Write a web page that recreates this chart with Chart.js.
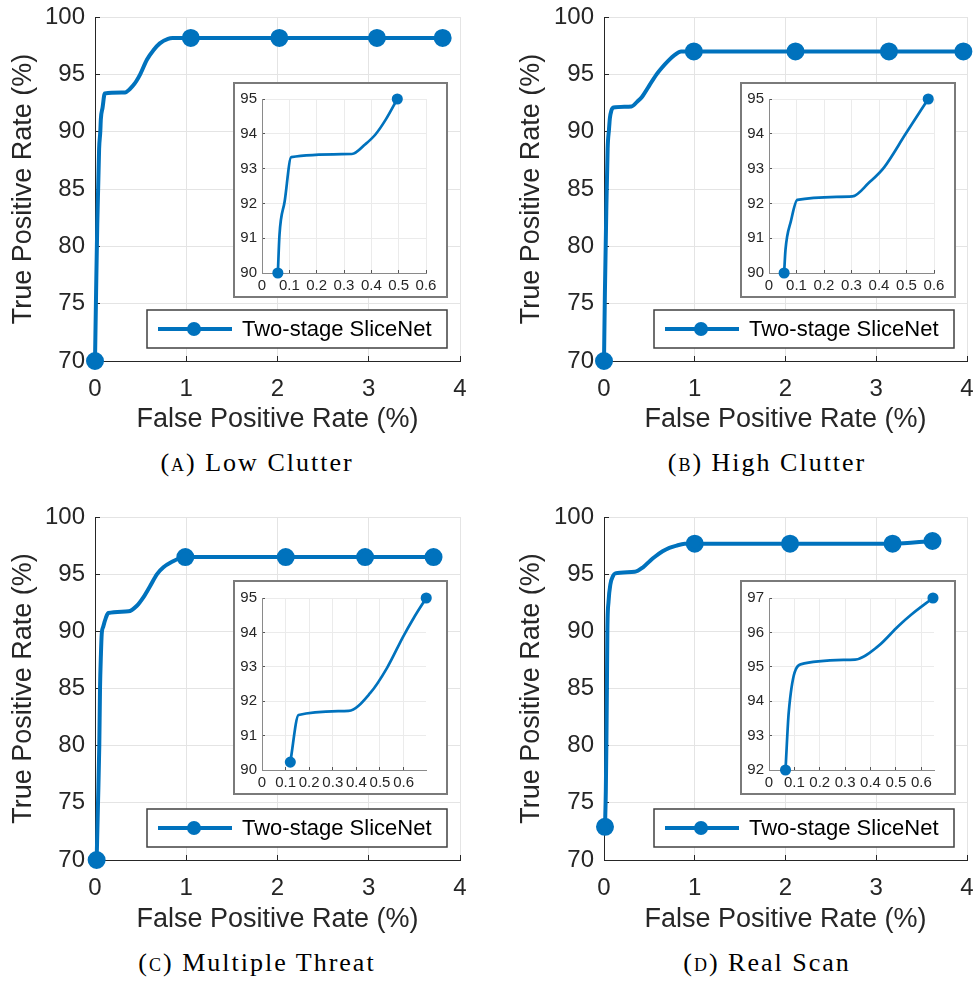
<!DOCTYPE html>
<html>
<head>
<meta charset="utf-8">
<title>Two-stage SliceNet ROC curves</title>
<script src="https://cdn.jsdelivr.net/npm/chart.js@4.4.1/dist/chart.umd.min.js"></script>
<style>
  html, body { margin: 0; padding: 0; background: #fff; }
  #page { position: relative; width: 978px; height: 982px; overflow: hidden; }
  #page canvas { position: absolute; display: block; }
  .inset { position: absolute; box-sizing: border-box; border: 2px solid #7a7a7a; background: #fff; }
  .inset canvas { left: 0; top: 0; }
  .caption { position: absolute; width: 340px; text-align: center; font-family: "Liberation Serif", "Times New Roman", serif;
             font-size: 26px; line-height: 30px; color: #000; letter-spacing: 2px; white-space: nowrap; }
  .sc { font-variant: small-caps; }
</style>
</head>
<body>
<div id="page"></div>
<script>
// values
const seriesName = 'Two-stage SliceNet';

const mainXTicks = [0, 1, 2, 3, 4];
const mainYTicks = [70, 75, 80, 85, 90, 95, 100];
const zoomXTicks = [0, 0.1, 0.2, 0.3, 0.4, 0.5, 0.6];
const zoomYTicks = [90, 91, 92, 93, 94, 95];
const zoomYTicksReal = [92, 93, 94, 95, 96, 97];

// (a) low clutter
const lowFpr = [0, 0.012, 0.025, 0.045, 0.058, 0.064, 0.083, 0.107, 0.33, 0.38, 0.415, 0.452, 0.495, 0.57, 0.64, 0.71, 0.8, 0.85, 1.05, 2.02, 3.09, 3.81];
const lowTpr = [70, 76, 82, 88.5, 90, 91.1, 92.1, 93.33, 93.42, 93.7, 94.0, 94.4, 95.0, 96.3, 97.1, 97.7, 98.1, 98.17, 98.17, 98.17, 98.17, 98.17];
const lowMarks = [0, 18, 19, 20, 21];
const lowZoomFpr = [0.058, 0.064, 0.083, 0.107, 0.329, 0.378, 0.415, 0.452, 0.495];
const lowZoomTpr = [90, 91.1, 92.06, 93.33, 93.42, 93.7, 93.98, 94.4, 95];

// (b) high clutter
const highFpr = [0, 0.01, 0.025, 0.04, 0.055, 0.065, 0.08, 0.103, 0.303, 0.364, 0.418, 0.497, 0.579, 0.64, 0.71, 0.78, 0.85, 0.99, 2.11, 3.14, 3.96];
const highTpr = [70, 76, 83, 88.5, 90.2, 91.2, 91.8, 92.1, 92.2, 92.6, 93.03, 94.0, 95.0, 95.6, 96.2, 96.7, 97.0, 97.0, 97.0, 97.0, 97.0];
const highMarks = [0, 17, 18, 19, 20];
const highZoomFpr = [0.055, 0.06, 0.08, 0.103, 0.303, 0.364, 0.418, 0.497, 0.579];
const highZoomTpr = [90, 90.67, 91.5, 92.1, 92.2, 92.6, 93.03, 94.0, 95];

// (c) multiple threat
const multiFpr = [0.018, 0.033, 0.047, 0.055, 0.065, 0.073, 0.09, 0.12, 0.146, 0.367, 0.459, 0.53, 0.6, 0.68, 0.75, 0.85, 0.93, 0.99, 2.09, 2.96, 3.71];
const multiTpr = [70, 75, 80, 85, 88, 89.7, 90.4, 91.2, 91.6, 91.75, 92.24, 92.97, 93.9, 95.0, 95.6, 96.1, 96.4, 96.5, 96.5, 96.5, 96.5];
const multiMarks = [0, 17, 18, 19, 20];
const multiZoomFpr = [0.12, 0.155, 0.367, 0.459, 0.53, 0.6, 0.643, 0.696];
const multiZoomTpr = [90.23, 91.6, 91.72, 92.24, 92.97, 93.9, 94.42, 95];

// (d) real scan
const realFpr = [0.011, 0.02, 0.026, 0.032, 0.037, 0.05, 0.07, 0.1, 0.124, 0.339, 0.43, 0.509, 0.561, 0.646, 0.72, 0.8, 0.89, 1.0, 2.05, 3.18, 3.62];
const realTpr = [72.9, 76, 80, 85, 90, 92.6, 94.1, 94.85, 95.07, 95.21, 95.6, 96.18, 96.52, 97.0, 97.3, 97.5, 97.65, 97.67, 97.67, 97.67, 97.9];
const realMarks = [0, 17, 18, 19, 20];
const realZoomFpr = [0.065, 0.078, 0.124, 0.339, 0.43, 0.509, 0.561, 0.646];
const realZoomTpr = [92, 93.7, 95.07, 95.21, 95.6, 96.18, 96.52, 97];

const BLUE = '#0072BD';
const INK = '#262626';
const SANS = '"Liberation Sans", Arial, Helvetica, sans-serif';
const page = document.getElementById('page');

// legend box drawn inside the lower right corner of the plot
const boxLegend = {
  id: 'boxLegend',
  afterDraw(chart) {
    const ds = chart.data.datasets[0];
    const a = chart.chartArea;
    const ctx = chart.ctx;
    const w = 300, h = 38;
    const x = a.right - 13 - w, y = a.bottom - 13 - h;
    const cy = y + h / 2;
    ctx.save();
    ctx.fillStyle = '#fff';
    ctx.fillRect(x, y, w, h);
    ctx.strokeStyle = '#404040';
    ctx.lineWidth = 1.5;
    ctx.strokeRect(x, y, w, h);
    ctx.strokeStyle = ds.borderColor;
    ctx.lineWidth = 4;
    ctx.beginPath();
    ctx.moveTo(x + 11, cy);
    ctx.lineTo(x + 85, cy);
    ctx.stroke();
    ctx.fillStyle = ds.borderColor;
    ctx.beginPath();
    ctx.arc(x + 47, cy, 7, 0, Math.PI * 2);
    ctx.fill();
    ctx.fillStyle = '#000';
    ctx.font = '22px ' + SANS;
    ctx.textBaseline = 'middle';
    ctx.fillText(ds.label, x + 95, cy + 1);
    ctx.restore();
  }
};

function makeCanvas(parent, left, top, w, h) {
  const c = document.createElement('canvas');
  c.width = w; c.height = h;
  c.style.left = left + 'px'; c.style.top = top + 'px';
  c.style.width = w + 'px'; c.style.height = h + 'px';
  parent.appendChild(c);
  return c;
}

function points(xs, ys) {
  return xs.map((x, i) => ({ x: x, y: ys[i] }));
}

// keep the plot area exactly where the layout padding puts it
function noScalePadding(s) {
  s.paddingLeft = 0; s.paddingRight = 0; s.paddingTop = 0; s.paddingBottom = 0;
}

function mainChart(box, plot, fpr, tpr, marks, yTitleX) {
  const canvas = makeCanvas(page, box.x, box.y, box.w, box.h);
  const bottomPad = 4;
  new Chart(canvas, {
    type: 'line',
    data: { datasets: [{
      label: seriesName,
      data: points(fpr, tpr),
      borderColor: BLUE, backgroundColor: BLUE,
      borderWidth: 4,
      pointRadius: ctx => marks.includes(ctx.dataIndex) ? 7 : 0,
      pointHoverRadius: 0,
      cubicInterpolationMode: 'monotone',
      borderJoinStyle: 'round', borderCapStyle: 'round',
      clip: false
    }] },
    options: {
      responsive: false, animation: false, events: [],
      layout: { padding: { left: 0, top: plot.t - box.y, right: box.x + box.w - plot.r, bottom: bottomPad } },
      plugins: { legend: { display: false }, tooltip: { enabled: false } },
      scales: {
        x: {
          type: 'linear', min: 0, max: 4,
          afterBuildTicks: s => { s.ticks = mainXTicks.map(v => ({ value: v })); },
          afterFit: s => { s.height = box.y + box.h - bottomPad - plot.b; noScalePadding(s); },
          grid: { color: '#e4e4e4', lineWidth: 1, tickLength: -5, tickColor: INK },
          border: { color: INK, width: 1 },
          ticks: { color: INK, font: { family: SANS, size: 24 }, padding: 19, maxRotation: 0, autoSkip: false, callback: v => String(v) },
          title: { display: true, text: 'False Positive Rate (%)', color: INK, font: { family: SANS, size: 27 }, padding: 0 }
        },
        y: {
          type: 'linear', min: 70, max: 100,
          afterBuildTicks: s => { s.ticks = mainYTicks.map(v => ({ value: v })); },
          afterFit: s => { s.width = plot.l - box.x; noScalePadding(s); },
          grid: { color: '#e4e4e4', lineWidth: 1, tickLength: -5, tickColor: INK },
          border: { color: INK, width: 1 },
          ticks: { color: INK, font: { family: SANS, size: 24 }, padding: 15, autoSkip: false, callback: v => String(v) },
          title: { display: true, text: 'True Positive Rate (%)', color: INK, font: { family: SANS, size: 27 },
                   padding: { top: yTitleX - box.x - 16.2, bottom: 0 } }
        }
      }
    },
    plugins: [boxLegend]
  });
}

function zoomChart(box, plot, fpr, tpr, xMax, yTicks) {
  const wrap = document.createElement('div');
  wrap.className = 'inset';
  wrap.style.left = box.x + 'px'; wrap.style.top = box.y + 'px';
  wrap.style.width = box.w + 'px'; wrap.style.height = box.h + 'px';
  page.appendChild(wrap);
  const cx = box.x + 2, cy = box.y + 2, cw = box.w - 4, ch = box.h - 4;
  const canvas = makeCanvas(wrap, 0, 0, cw, ch);
  const last = fpr.length - 1;
  new Chart(canvas, {
    type: 'line',
    data: { datasets: [{
      label: seriesName,
      data: points(fpr, tpr),
      borderColor: BLUE, backgroundColor: BLUE,
      borderWidth: 2.7,
      pointRadius: ctx => (ctx.dataIndex === 0 || ctx.dataIndex === last) ? 4.2 : 0,
      pointHoverRadius: 0,
      cubicInterpolationMode: 'monotone',
      borderJoinStyle: 'round', borderCapStyle: 'round',
      clip: false
    }] },
    options: {
      responsive: false, animation: false, events: [],
      layout: { padding: { left: 0, top: plot.t - cy, right: cx + cw - plot.r, bottom: 0 } },
      plugins: { legend: { display: false }, tooltip: { enabled: false } },
      scales: {
        x: {
          type: 'linear', min: 0, max: xMax,
          afterBuildTicks: s => { s.ticks = zoomXTicks.map(v => ({ value: v })); },
          afterFit: s => { s.height = cy + ch - plot.b; noScalePadding(s); },
          grid: { color: '#ebebeb', lineWidth: 1, tickLength: -3, tickColor: '#555' },
          border: { color: '#8a8a8a', width: 1 },
          ticks: { color: INK, font: { family: SANS, size: 15 }, padding: 7, maxRotation: 0, autoSkip: false, callback: v => String(v) }
        },
        y: {
          type: 'linear', min: yTicks[0], max: yTicks[yTicks.length - 1],
          afterBuildTicks: s => { s.ticks = yTicks.map(v => ({ value: v })); },
          afterFit: s => { s.width = plot.l - cx; noScalePadding(s); },
          grid: { color: '#ebebeb', lineWidth: 1, tickLength: -3, tickColor: '#555' },
          border: { color: '#8a8a8a', width: 1 },
          ticks: { color: INK, font: { family: SANS, size: 15 }, padding: 8, autoSkip: false, callback: v => String(v) }
        }
      }
    }
  });
}

function caption(cx, cy, letter, text) {
  const d = document.createElement('div');
  d.className = 'caption';
  d.style.left = (cx - 170) + 'px';
  d.style.top = (cy - 15) + 'px';
  d.innerHTML = '(<span class="sc">' + letter + '</span>) ' + text;
  page.appendChild(d);
}

// panel (a)
mainChart({ x: 0, y: 0, w: 489, h: 440 }, { l: 95, r: 460, t: 17, b: 361 }, lowFpr, lowTpr, lowMarks, 24);
zoomChart({ x: 233, y: 82, w: 215, h: 216 }, { l: 262, r: 426, t: 99, b: 273 }, lowZoomFpr, lowZoomTpr, 0.6, zoomYTicks);
caption(257, 463, 'a', 'Low Clutter');

// panel (b)
mainChart({ x: 489, y: 0, w: 489, h: 440 }, { l: 604, r: 969, t: 17, b: 361 }, highFpr, highTpr, highMarks, 532);
zoomChart({ x: 740, y: 82, w: 216, h: 216 }, { l: 769, r: 934, t: 99, b: 273 }, highZoomFpr, highZoomTpr, 0.6, zoomYTicks);
caption(767, 463, 'b', 'High Clutter');

// panel (c)
mainChart({ x: 0, y: 500, w: 489, h: 440 }, { l: 95, r: 460, t: 517, b: 860 }, multiFpr, multiTpr, multiMarks, 24);
zoomChart({ x: 233, y: 580, w: 215, h: 215 }, { l: 262, r: 426, t: 598, b: 770 }, multiZoomFpr, multiZoomTpr, 0.695, zoomYTicks);
caption(257, 963, 'c', 'Multiple Threat');

// panel (d)
mainChart({ x: 489, y: 500, w: 489, h: 440 }, { l: 604, r: 969, t: 517, b: 860 }, realFpr, realTpr, realMarks, 532);
zoomChart({ x: 740, y: 580, w: 216, h: 215 }, { l: 769, r: 934, t: 598, b: 770 }, realZoomFpr, realZoomTpr, 0.65, zoomYTicksReal);
caption(767, 963, 'd', 'Real Scan');
</script>
</body>
</html>
